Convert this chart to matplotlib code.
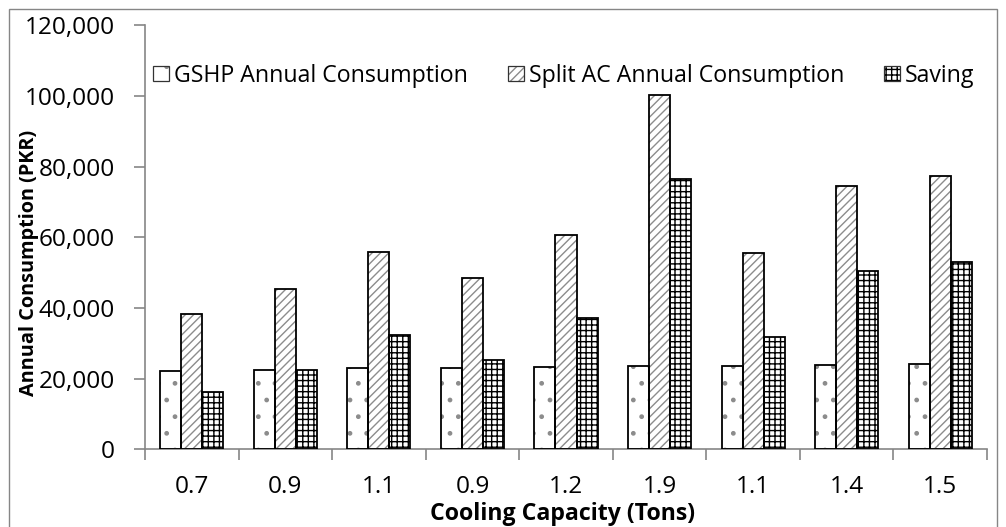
import numpy as np
import matplotlib
matplotlib.use("Agg")
from matplotlib import pyplot as plt
from matplotlib.patches import Patch, Rectangle
from matplotlib.legend_handler import HandlerTuple
from matplotlib.ticker import FuncFormatter

# data
capacity = ["0.7", "0.9", "1.1", "0.9", "1.2", "1.9", "1.1", "1.4", "1.5"]
gshp = [22200, 22400, 22900, 22900, 23400, 23600, 23600, 23900, 24100]
split_ac = [38400, 45300, 55800, 48600, 60700, 100300, 55600, 74500, 77400]
saving = [16100, 22500, 32400, 25400, 37100, 76500, 31900, 50500, 53100]

names = ["GSHP Annual Consumption", "Split AC Annual Consumption", "Saving"]
hatches = [".", "////", "+++"]
hcols = ["#8c8c8c", "#8c8c8c", "#000000"]

plt.rcParams['font.family'] = ['Open Sans', 'DejaVu Sans']
plt.rcParams['hatch.linewidth'] = 1.0
tick_fs = 17.6
leg_fs = 16.7
grey = "#868686"

fig = plt.figure(figsize=(10.06, 5.27), dpi=100)
ax = fig.add_axes([145/1006, 1-449.3/527, 842/1006, (449.3-25.3)/527])

x = np.arange(len(capacity))
w = 0.225
series = [gshp, split_ac, saving]
handles = []
for i, vals in enumerate(series):
    pos = x + (i-1)*w
    # hatch layer, then black outline on top
    ax.bar(pos, vals, w, color="white", hatch=hatches[i], edgecolor=hcols[i], linewidth=0, zorder=2)
    ax.bar(pos, vals, w, fill=False, edgecolor="black", linewidth=1.3, zorder=3)
    h1 = Patch(facecolor="white", hatch=hatches[i], edgecolor=hcols[i], linewidth=0)
    h2 = Patch(fill=False, edgecolor="#333333", linewidth=0.9)
    handles.append((h1, h2))

ax.set_xlim(-0.5, len(capacity)-0.5)
ax.set_ylim(0, 120000)
ax.set_yticks(np.arange(0, 120001, 20000))
ax.yaxis.set_major_formatter(FuncFormatter(lambda v, p: f"{int(v):,}"))

ax.set_xticks(np.arange(-0.5, len(capacity), 1))
ax.set_xticklabels([])
ax.set_xticks(x, minor=True)
ax.set_xticklabels(capacity, minor=True)
ax.tick_params(axis="x", which="major", direction="out", length=8, color=grey, width=1.2)
ax.tick_params(axis="x", which="minor", length=0, pad=18.5, labelsize=tick_fs)
ax.tick_params(axis="y", direction="out", length=8, color=grey, width=1.2, pad=13.5, labelsize=tick_fs)

for s in ["top", "right"]:
    ax.spines[s].set_visible(False)
for s in ["left", "bottom"]:
    ax.spines[s].set_color(grey)
    ax.spines[s].set_linewidth(1.2)

fig.text(29/1006, 1-263/527, "Annual Consumption (PKR)", rotation=90, ha="center", va="center",
         fontsize=14.3, fontweight="bold")
fig.text(562/1006, 1-520/527, "Cooling Capacity (Tons)", ha="center", va="baseline",
         fontsize=16.7, fontweight="bold")

fig.legend(handles, names, handler_map={tuple: HandlerTuple(ndivide=1, pad=0)},
           loc="center", bbox_to_anchor=(564/1006, 1-75.5/527), ncol=3, frameon=False,
           fontsize=leg_fs, handlelength=0.68, handleheight=0.65, handletextpad=0.22,
           columnspacing=1.72, borderpad=0, borderaxespad=0)

# outer chart border (bottom edge falls off the canvas)
fig.patches.append(Rectangle((9/1006, -10/527), 988/1006, 528/527, transform=fig.transFigure,
                             fill=False, edgecolor=grey, linewidth=1.0))

fig.savefig("out.png", dpi=100)
